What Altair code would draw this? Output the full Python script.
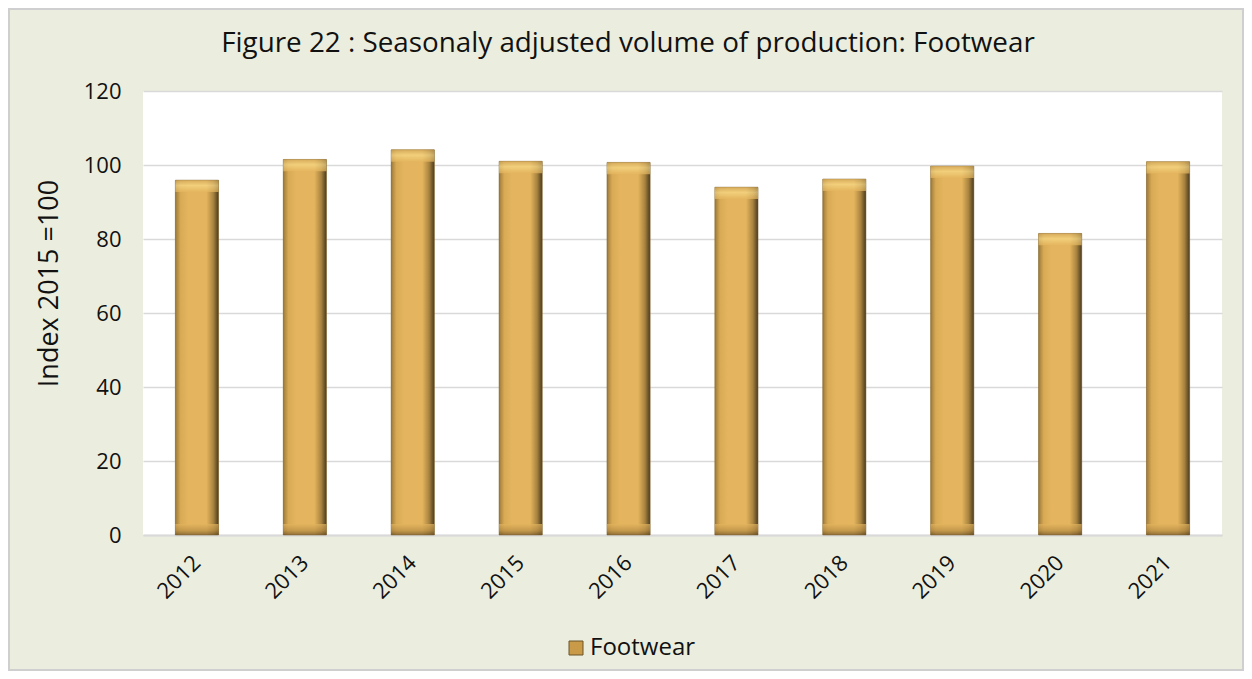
import altair as alt
import pandas as pd

years = ["2012", "2013", "2014", "2015", "2016", "2017", "2018", "2019", "2020", "2021"]
values = [95.9, 101.5, 104.1, 101.0, 100.7, 94.0, 96.2, 99.7, 81.5, 100.9]
series = ["Footwear"] * len(years)
title_text = "Figure 22 : Seasonaly adjusted volume of production: Footwear"

df = pd.DataFrame({"year": years, "value": values, "series": series})

FONT = "Open Sans"
W, H = 1079, 444
PL, PT, PR, PB = 135, 83, 22, 136

gold = alt.Gradient(
    gradient="linear", x1=0, x2=1, y1=0, y2=0,
    stops=[
        alt.GradientStop(color="#9C7A3A", offset=0),
        alt.GradientStop(color="#D9AA55", offset=0.12),
        alt.GradientStop(color="#E4B55E", offset=0.3),
        alt.GradientStop(color="#E4B55E", offset=0.72),
        alt.GradientStop(color="#A8833F", offset=0.88),
        alt.GradientStop(color="#4A3B1F", offset=1),
    ],
)
top_cap = alt.Gradient(
    gradient="linear", x1=0, x2=0, y1=0, y2=1,
    stops=[
        alt.GradientStop(color="#D2A85A", offset=0),
        alt.GradientStop(color="#F8DA88", offset=0.45),
        alt.GradientStop(color="#E4B55E", offset=1),
    ],
)
bottom_cap = alt.Gradient(
    gradient="linear", x1=0, x2=0, y1=0, y2=1,
    stops=[
        alt.GradientStop(color="#E4B55E", offset=0),
        alt.GradientStop(color="#B88E45", offset=0.6),
        alt.GradientStop(color="#6E5328", offset=1),
    ],
)

x_enc = alt.X(
    "year:N", sort=years, title=None,
    scale=alt.Scale(paddingInner=0.6, paddingOuter=0.3),
    axis=alt.Axis(labelAngle=-45, labelAlign="right", labelBaseline="middle",
                  labelFontSize=22, labelFont=FONT, labelColor="#111111",
                  labelPadding=24, ticks=False, domain=True,
                  domainColor="#D9D9D9", domainWidth=2, grid=False),
)
y_enc = alt.Y(
    "value:Q", title="Index 2015 =100",
    scale=alt.Scale(domain=[0, 120], nice=False),
    axis=alt.Axis(values=[0, 20, 40, 60, 80, 100, 120], labelFontSize=22,
                  labelFont=FONT, labelColor="#111111", labelPadding=22,
                  ticks=False, domain=False, grid=True, gridColor="#D9D9D9",
                  gridWidth=1.5, titleFontSize=27, titleFont=FONT,
                  titleFontWeight="normal", titleColor="#111111",
                  titlePadding=20, titleY=192),
)

base_bars = alt.Chart(df).mark_bar().encode(
    x=x_enc, y=y_enc,
    color=alt.Color("series:N", title=None,
                    scale=alt.Scale(range=["#C99A48"]),
                    legend=alt.Legend(orient="none", legendX=421, legendY=545,
                                      symbolType="square", symbolSize=196,
                                      symbolStrokeColor="#6B5428", symbolStrokeWidth=1,
                                      labelFontSize=24, labelFont=FONT,
                                      labelColor="#111111", labelOffset=2)),
)

grad_bars = alt.Chart(df).mark_bar(fill=gold, stroke="#7A6030", strokeWidth=0.5).encode(
    x=alt.X("year:N", sort=years), y="value:Q"
)

top_bars = alt.Chart(df).transform_calculate(
    low="datum.value - 3.2"
).mark_bar(fill=top_cap, opacity=0.7).encode(
    x=alt.X("year:N", sort=years), y="value:Q", y2="low:Q"
)

bottom_bars = alt.Chart(df).transform_calculate(
    zero="0", cap="3"
).mark_bar(fill=bottom_cap, opacity=0.7).encode(
    x=alt.X("year:N", sort=years), y="cap:Q", y2="zero:Q"
)

title_layer = alt.Chart(pd.DataFrame({"t": [title_text]})).mark_text(
    font=FONT, fontSize=27.8, color="#111111", align="center", baseline="alphabetic"
).encode(
    text="t:N", x=alt.value(485), y=alt.value(-39)
)

border = alt.Chart(pd.DataFrame({"a": [0]})).mark_rect(
    fill=None, stroke="#CFCFCF", strokeWidth=2
).encode(
    x=alt.value(-PL + 1), x2=alt.value(W + PR - 1),
    y=alt.value(-PT + 1), y2=alt.value(H + PB - 1),
)

chart = alt.layer(base_bars, grad_bars, top_bars, bottom_bars, title_layer, border).properties(
    width=W, height=H,
    autosize=alt.AutoSizeParams(type="none"),
    padding={"left": PL, "top": PT, "right": PR, "bottom": PB},
    background="#EBEEDE",
).configure_view(fill="white", stroke=None)

chart.save("out.html", embed_options={"renderer": "svg", "actions": False})
